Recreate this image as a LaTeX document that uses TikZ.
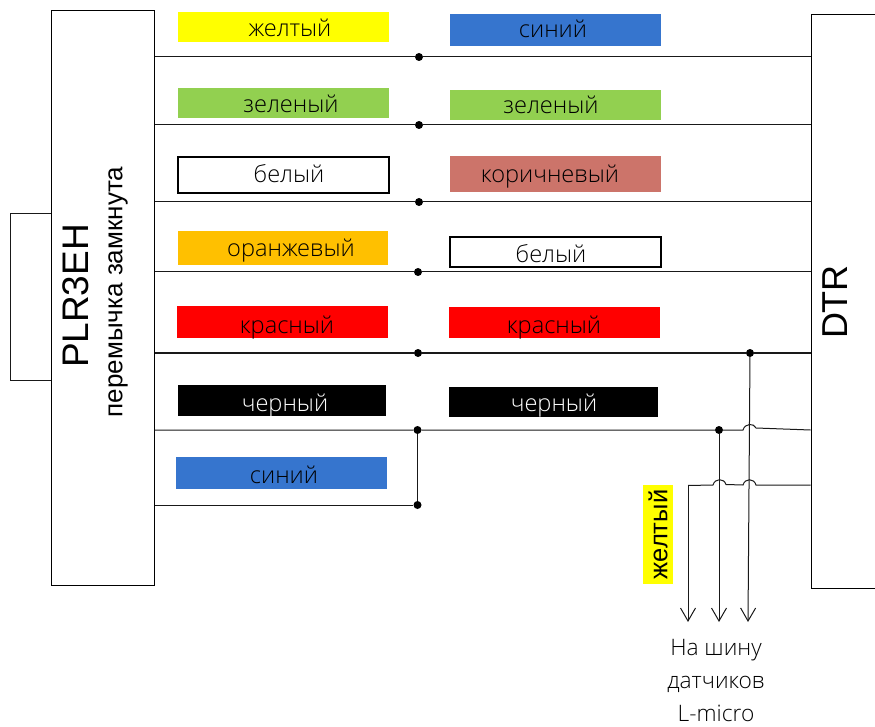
\documentclass[tikz,border=0pt]{standalone}
\usepackage{fontspec}
\setmainfont{Open Sans Light}
\newfontfamily\armfont{Liberation Sans}
\usetikzlibrary{positioning,calc,arrows.meta}
\definecolor{barYellow}{HTML}{FFFF00}
\definecolor{barGreen}{HTML}{92D050}
\definecolor{barBlue}{HTML}{3675CE}
\definecolor{barBrown}{HTML}{CC746A}
\definecolor{barOrange}{HTML}{FFC000}
\definecolor{barRed}{HTML}{FF0000}
\definecolor{barText}{HTML}{000000}
\newcommand{\barlabel}[3]{\hspace*{#1pt}\smash{\raisebox{#2pt}{#3}}}
\tikzset{
  colorbar/.style={
    anchor=center,
    inner sep=0pt,
    minimum width=211pt,
    font=\fontsize{23.6}{28}\selectfont,
    text=barText,
  },
  junction/.style={circle,fill=black,inner sep=0pt,minimum size=8pt},
  wire/.style={draw,line width=1pt,black!90},
}
\begin{document}
\begin{tikzpicture}[x=1pt,y=-1pt]
  \useasboundingbox (0,0) rectangle (875,727);
  \begin{scope}[every node/.style={colorbar}]
    \node[fill=barYellow,minimum height=30pt]                     (yellowL) at (283.5,27)  {\barlabel{13}{-10}{желтый}};
    \node[fill=barGreen,minimum height=30pt]                      (greenL)  at (283,103)   {\barlabel{16}{-10}{зеленый}};
    \node[draw,line width=2pt,minimum width=211pt,minimum height=36pt] (whiteL) at (283,175.5) {\barlabel{12}{-7.5}{белый}};
    \node[fill=barOrange,minimum height=34pt,minimum width=210pt] (orangeL) at (283,248)   {\barlabel{16}{-9}{оранжевый}};
    \node[fill=barRed,minimum height=32pt,minimum width=211pt]    (redL)    at (282.5,322) {\barlabel{9}{-11}{красный}};
    \node[fill=black,minimum height=31pt,minimum width=208pt,text=white] (blackL) at (282,400.5) {\barlabel{6}{-10.5}{черный}};
    \node[fill=barBlue,minimum height=32pt]                       (blueL)   at (281.5,473) {\barlabel{5}{-10}{синий}};
    \node[fill=barBlue,minimum height=32pt]                       (blueR)   at (555.5,30)  {\barlabel{-5}{-8}{синий}};
    \node[fill=barGreen,minimum height=30pt]                      (greenR)  at (555.5,105) {\barlabel{-9}{-9}{зеленый}};
    \node[fill=barBrown,minimum height=36pt]                      (brownR)  at (555.5,174) {\barlabel{-11}{-9}{коричневый}};
    \node[draw,line width=2pt,minimum height=30pt]                (whiteR)  at (555,252.5) {\barlabel{-8}{-10.5}{белый}};
    \node[fill=barRed,minimum height=31pt]                        (redR)    at (554.5,322.5) {\barlabel{-1}{-10.5}{красный}};
    \node[fill=black,minimum height=30pt,minimum width=209pt,text=white] (blackR) at (553.5,402) {\barlabel{1}{-9}{черный}};
  \end{scope}
  % blocks
  \node[draw,line width=1pt,minimum width=103pt,minimum height=574pt,inner sep=0pt] (plr) at (102.5,298) {};
  \node[draw,line width=1pt,minimum width=90pt,minimum height=573pt,inner sep=0pt] (dtr) at (856,301.5) {};
  \node[rotate=90,font=\armfont\fontsize{37}{40}\selectfont] (plrname) at (76,296) {PLR3EH};
  \node[rotate=90,font=\armfont\fontsize{26}{30}\selectfont] (jumpername) at (118,292) {перемычка замкнута};
  \node[rotate=90,font=\armfont\fontsize{36}{40}\selectfont] (dtrname) at (835,302) {DTR};
  \node[rotate=90,fill=barYellow,inner sep=0pt,minimum width=99pt,minimum height=30pt,
    font=\armfont\fontsize{25.5}{30}\selectfont] (yellowtag) at (658,534.5) {желтый};
  \node[align=center,anchor=center,font=\fontsize{22.7}{33}\selectfont,text=barText] (busname) at (716,681) {На шину\\датчиков\\L-micro};
  % junctions
  \node[junction] (j1) at (419,57)  {};
  \node[junction] (j2) at (419,125) {};
  \node[junction] (j3) at (419,202) {};
  \node[junction] (j4) at (418,272) {};
  \node[junction] (j5) at (418,353) {};
  \node[junction] (j6) at (750,353) {};
  \node[junction] (j7) at (417.5,430) {};
  \node[junction] (j8) at (417.5,505) {};
  \node[junction] (j9) at (719,430) {};
  \coordinate (jumpera) at (plr.west |- 0,214);
  \coordinate (jumperb) at (plr.west |- 0,380);
  \coordinate (ta) at (743,430);
  \coordinate (tb) at (756,428);
  \coordinate (tc) at (dtr.west |- 0,430);
  \coordinate (ua) at (dtr.west |- 0,485);
  \coordinate (ub) at (756,485);
  \coordinate (uc) at (743,485);
  \coordinate (ud) at (726,484.5);
  \coordinate (ue) at (713,485);
  \coordinate (uf) at (688,485.5);
  \coordinate (arrowa) at (688,622);
  \coordinate (arrowb) at (719,622);
  \coordinate (arrowc) at (748,622);
  \begin{scope}[every path/.style={wire}]
    \draw (jumpera) -- ++(-40,0) |- (jumperb);
    \draw (plr.east |- j1) -- (j1) -- (dtr.west |- j1);
    \draw (plr.east |- j2) -- (j2) -- (dtr.west |- j2);
    \draw (plr.east |- j3) -- (j3) -- (dtr.west |- j3);
    \draw (plr.east |- j4) -- (j4) -- (dtr.west |- j4);
    \draw[line width=1.8pt] (plr.east |- j5) -- (j5) -- (j6) -- (dtr.west |- j6);
    \draw (plr.east |- j7) -- (j7) -- (j9) -- (ta)
      .. controls (745,423) and (754,423) .. (tb) -- (tc);
    \draw (plr.east |- j8) -- (j8) -- (j7);
    \draw (ua) -- (ub)
      .. controls (754,478) and (745,478) .. (uc) -- (ud)
      .. controls (724,478) and (715,478) .. (ue) -- (uf);
  \end{scope}
  \begin{scope}[every path/.style={wire},>={Straight Barb[length=13pt,width=15pt]}]
    \draw[->] (uf) -- (arrowa);
    \draw[->] (j9) -- (arrowb);
    \draw[->] (j6) -- (arrowc);
  \end{scope}
\end{tikzpicture}
\end{document}
